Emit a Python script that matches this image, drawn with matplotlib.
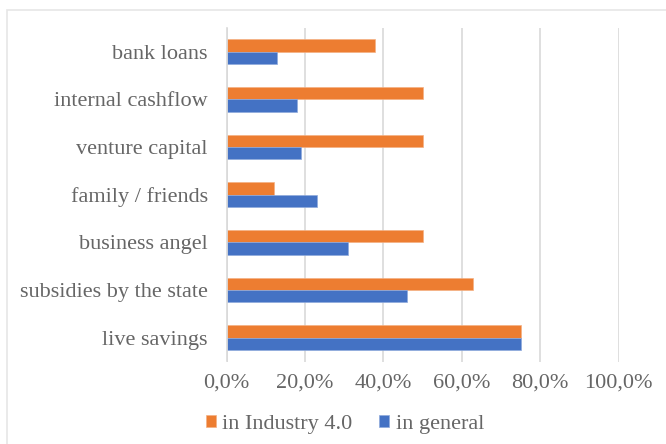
import matplotlib
matplotlib.use("Agg")
import matplotlib.pyplot as plt
from matplotlib.patches import Rectangle
from matplotlib.ticker import FuncFormatter
import numpy as np

categories = ["live savings", "subsidies by the state", "business angel",
              "family / friends", "venture capital", "internal cashflow",
              "bank loans"]
industry40 = [75, 63, 50, 12, 50, 50, 38]
general = [75, 46, 31, 23, 19, 18, 13]
xticks = [0, 20, 40, 60, 80, 100]

ORANGE = "#ED7D31"
BLUE = "#4472C4"
TEXT = "#666666"
GRID = "#D9D9D9"

plt.rcParams["font.family"] = ["Liberation Serif", "DejaVu Serif"]

fig = plt.figure(figsize=(6.66, 4.44), dpi=100)
fig.patch.set_facecolor("white")

# outer chart frame
fig.patches.append(Rectangle((7 / 666, -0.05), 1.2, (444 - 10) / 444 + 0.05,
                             transform=fig.transFigure, fill=False,
                             edgecolor="#E6E6E6", linewidth=1.2))

ax = fig.add_axes([226.5 / 666, 1 - 361.5 / 444,
                   (618.5 - 226.5) / 666, (361.5 - 28) / 444])

y = np.arange(len(categories))
h = 0.26
ax.barh(y + h / 2, industry40, height=h, color=ORANGE, label="in Industry 4.0",
        edgecolor="#F4B183", linewidth=0.5, zorder=3)
ax.barh(y - h / 2, general, height=h, color=BLUE, label="in general",
        edgecolor="#8FAADC", linewidth=0.5, zorder=3)

ax.set_xlim(0, 100)
ax.set_ylim(-0.5, len(categories) - 0.5)
ax.set_xticks(xticks)
ax.xaxis.set_major_formatter(FuncFormatter(lambda v, p: f"{v:.1f}%".replace(".", ",")))
ax.set_yticks(y)
ax.set_yticklabels(categories)
ax.tick_params(axis="both", length=0, labelsize=16, colors=TEXT)
ax.tick_params(axis="x", pad=9)
ax.tick_params(axis="y", pad=13.5)

ax.grid(axis="x", color=GRID, linewidth=1.2, zorder=0)
for s in ["top", "right", "bottom"]:
    ax.spines[s].set_visible(False)
ax.spines["left"].set_color(GRID)
ax.spines["left"].set_linewidth(1.2)
ax.spines["left"].set_zorder(4)

leg = fig.legend(loc="center", bbox_to_anchor=(345 / 666, 1 - 424 / 444),
                 ncol=2, frameon=False, fontsize=16, handlelength=0.45,
                 handleheight=0.45, handletextpad=0.3, columnspacing=1.2)
for t in leg.get_texts():
    t.set_color(TEXT)

fig.savefig("out.png", dpi=100, facecolor="white")
